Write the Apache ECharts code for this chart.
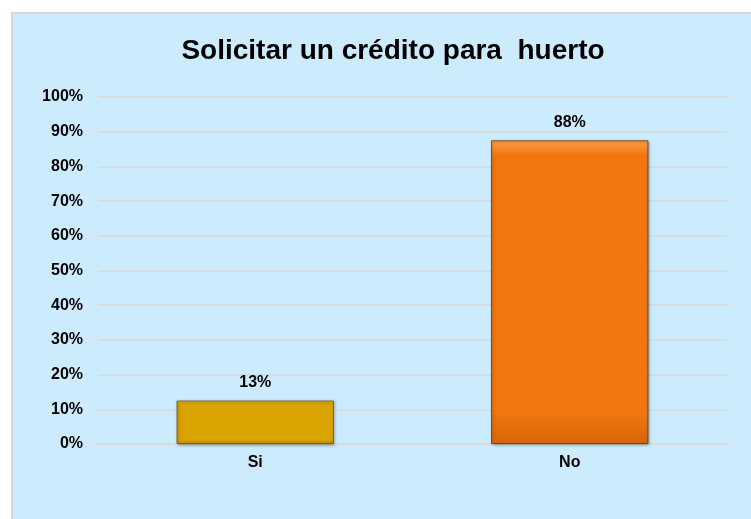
<!DOCTYPE html>
<html>
<head>
<meta charset="utf-8">
<script src="https://cdn.jsdelivr.net/npm/echarts@6/dist/echarts.min.js"></script>
<style>
  html, body { margin: 0; padding: 0; background: #fff; }
  #chart { width: 751px; height: 519px; }
</style>
</head>
<body>
<div id="chart"></div>
<script>
// datos del gráfico
const categorias = ['Si', 'No'];
const valores = [12.5, 87.5];
const colores = [
  { top: '#F7D430', main: '#D9A300', bottom: '#C28E00', edge: '#6E5000' },
  { top: '#FBA048', main: '#F27510', bottom: '#D86408', edge: '#6E3000' }
];

const chart = echarts.init(document.getElementById('chart'));

const bevel = (c) => new echarts.graphic.LinearGradient(0, 0, 0, 1, [
  { offset: 0, color: c.top },
  { offset: 0.05, color: c.main },
  { offset: 0.9, color: c.main },
  { offset: 1, color: c.bottom }
]);

const fuente = 'Liberation Sans, Arial, sans-serif';

const option = {
  backgroundColor: '#fff',
  textStyle: { fontFamily: fuente },
  graphic: [{
    type: 'rect',
    z: -10,
    silent: true,
    shape: { x: 12, y: 13, width: 760, height: 520 },
    style: { fill: '#CCEBFD', stroke: '#D9D9D9', lineWidth: 2 }
  }],
  title: {
    text: 'Solicitar un crédito para  huerto',
    left: 388,
    textAlign: 'center',
    top: 32,
    textStyle: { fontSize: 28, fontWeight: 'bold', color: '#000', fontFamily: fuente }
  },
  grid: { left: 98, right: 24, top: 97, bottom: 75, containLabel: false },
  xAxis: {
    type: 'category',
    data: categorias,
    axisLine: { lineStyle: { color: '#D9D9D9', width: 2 } },
    axisTick: { show: false },
    axisLabel: { fontSize: 16, fontWeight: 'bold', color: '#000', margin: 11 }
  },
  yAxis: {
    type: 'value',
    min: 0,
    max: 100,
    interval: 10,
    axisLine: { show: false },
    axisTick: { show: false },
    axisLabel: { fontSize: 16, fontWeight: 'bold', color: '#000', margin: 15, formatter: '{value}%' },
    splitLine: { lineStyle: { color: '#D9D9D9', width: 1.5 } }
  },
  series: [{
    type: 'bar',
    barWidth: '50%',
    data: valores.map((v, i) => ({
      value: v,
      itemStyle: {
        color: bevel(colores[i]),
        borderColor: colores[i].edge,
        borderWidth: 0.8,
        shadowColor: 'rgba(0,0,0,0.35)',
        shadowBlur: 3,
        shadowOffsetX: 1,
        shadowOffsetY: 1
      }
    })),
    label: {
      show: true,
      position: 'top',
      distance: 10,
      fontSize: 16,
      fontWeight: 'bold',
      color: '#000',
      formatter: (p) => Math.round(p.value) + '%'
    }
  }]
};

chart.setOption(option);
</script>
</body>
</html>
